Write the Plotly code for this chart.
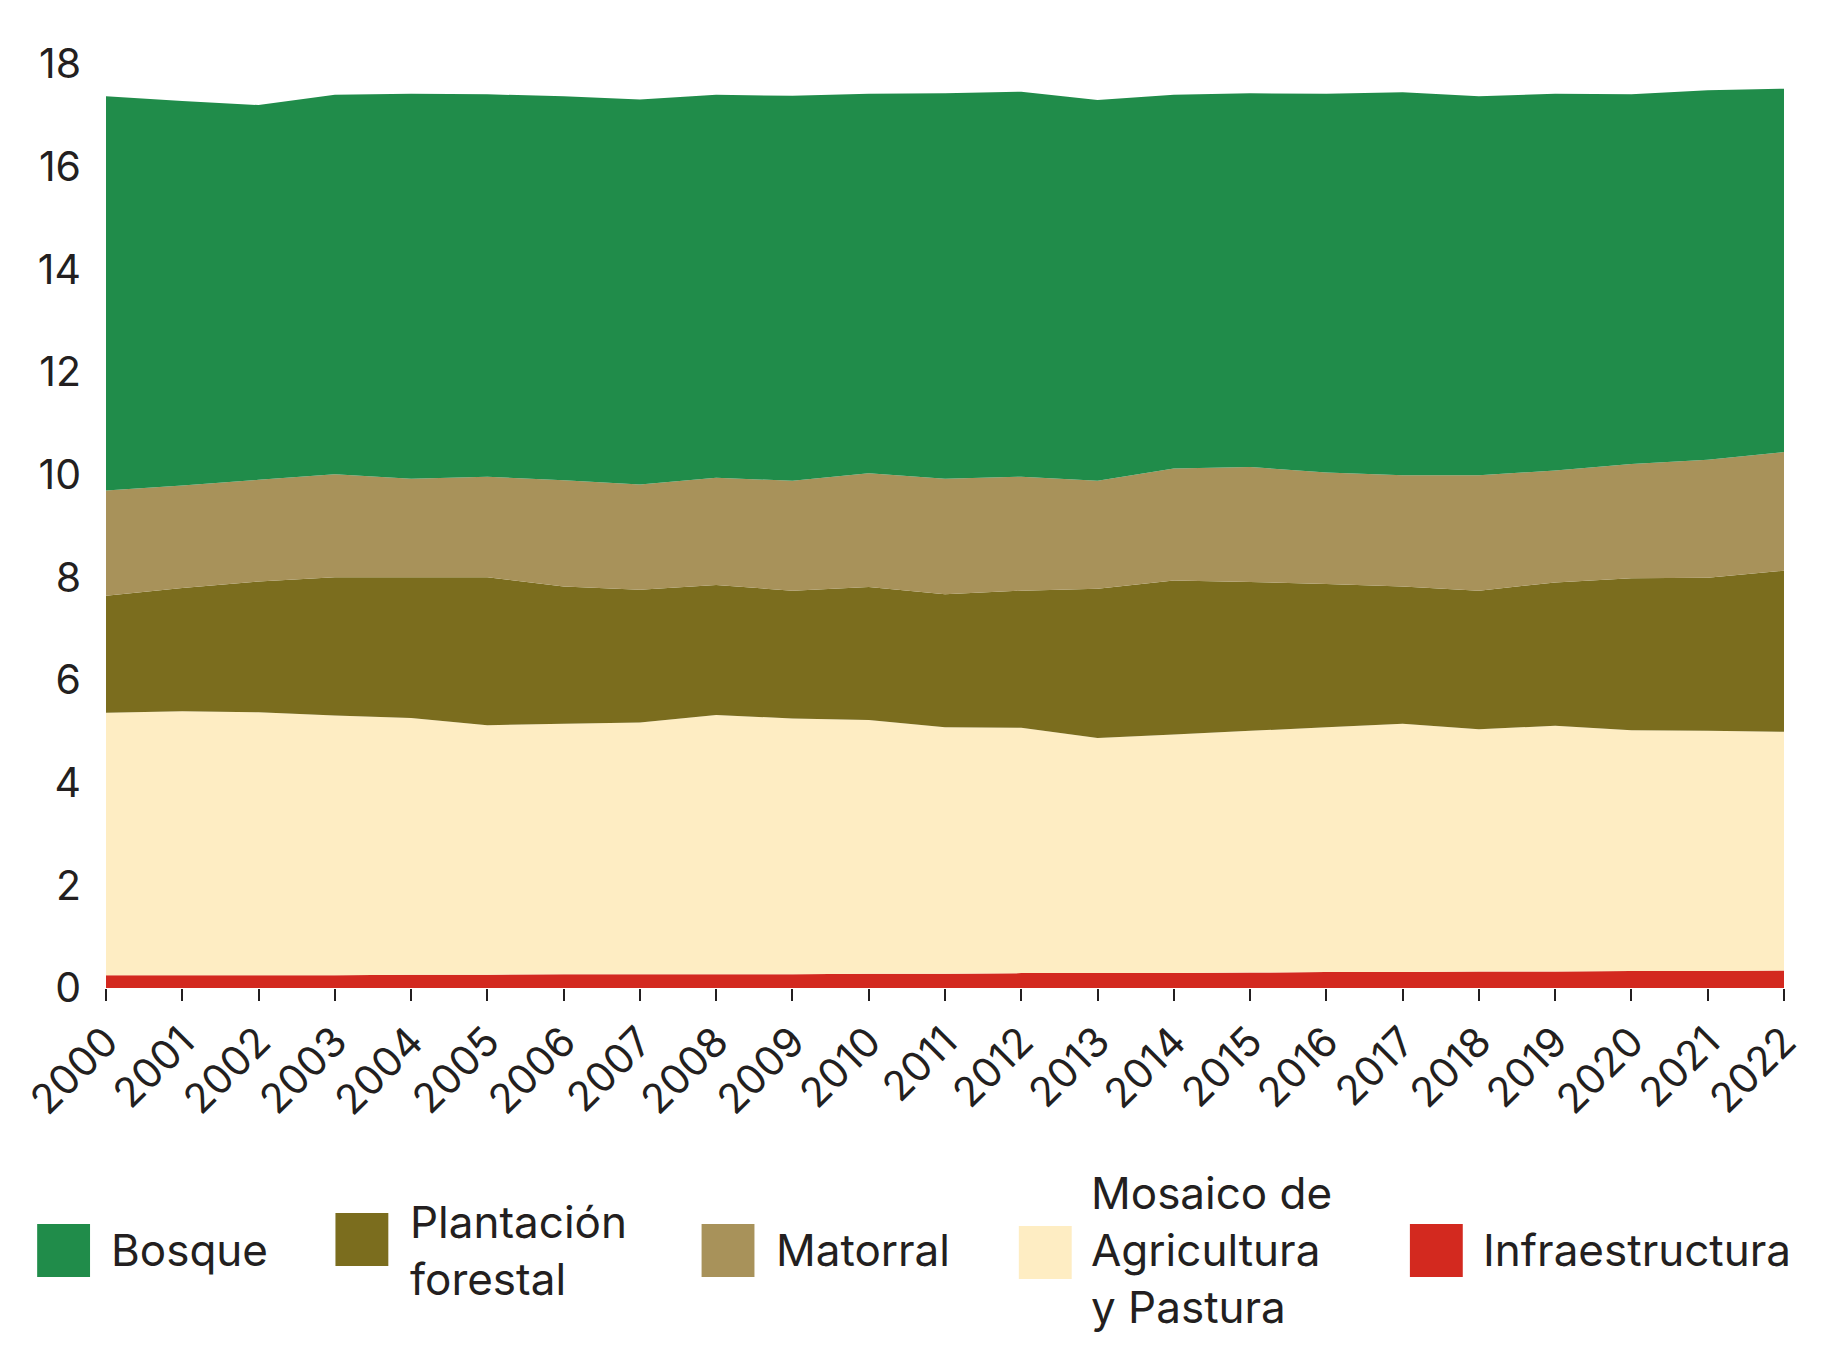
import plotly.graph_objects as go

# Datos (millones de ha aprox.)
years = list(range(2000, 2023))

infraestructura = [0.25, 0.25, 0.25, 0.25, 0.26, 0.26, 0.27, 0.27, 0.27, 0.27, 0.28, 0.28,
                   0.29, 0.29, 0.29, 0.30, 0.31, 0.31, 0.32, 0.32, 0.33, 0.33, 0.34]
mosaico = [5.11, 5.14, 5.12, 5.06, 5.00, 4.86, 4.88, 4.90, 5.05, 4.98, 4.94, 4.80,
           4.78, 4.58, 4.65, 4.71, 4.77, 4.84, 4.72, 4.79, 4.69, 4.68, 4.65]
plantacion = [2.28, 2.40, 2.55, 2.69, 2.74, 2.88, 2.67, 2.59, 2.53, 2.49, 2.59, 2.59,
              2.67, 2.91, 3.00, 2.90, 2.79, 2.67, 2.70, 2.79, 2.96, 2.98, 3.14]
matorral = [2.05, 2.00, 1.98, 2.01, 1.92, 1.96, 2.07, 2.05, 2.09, 2.14, 2.22, 2.25,
            2.22, 2.10, 2.18, 2.24, 2.17, 2.17, 2.25, 2.18, 2.23, 2.30, 2.31]
bosque = [7.68, 7.49, 7.30, 7.39, 7.50, 7.45, 7.48, 7.50, 7.46, 7.50, 7.39, 7.51,
          7.50, 7.42, 7.28, 7.28, 7.38, 7.46, 7.38, 7.34, 7.20, 7.20, 7.08]

y_ticks = list(range(0, 19, 2))

# orden de apilado: de abajo hacia arriba
series = [
    ("Infraestructura", infraestructura, "#D3291F"),
    ("Mosaico de<br>Agricultura<br>y Pastura", mosaico, "#FEEDC3"),
    ("Plantación<br>forestal", plantacion, "#7B6D1E"),
    ("Matorral", matorral, "#A8925A"),
    ("Bosque", bosque, "#208C4A"),
]

TXT = "#231F20"
FONT = "Inter, Lato, sans-serif"

# el body del html tiene 8px de margen
OFF = 8
W, H = 1831 - 2 * OFF, 1358 - 2 * OFF
L, R, T, B = 102 - OFF, 47 - OFF, 64 - OFF, 370 - OFF

fig = go.Figure()
for name, vals, color in series:
    fig.add_trace(go.Scatter(
        x=years, y=vals, name=name.replace("<br>", " "),
        mode="none", stackgroup="one", fillcolor=color,
        showlegend=False,
    ))

# leyenda manual (cuadros grandes)
plot_w = W - L - R
plot_h = H - T - B


def px_x(px):
    return (px - OFF - L) / plot_w


def px_y(py):
    return (H - B - (py - OFF)) / plot_h


legend_items = [
    ("Bosque", "#208C4A", 33, 1224, 105),
    ("Plantación<br>forestal", "#7B6D1E", 332, 1213, 405),
    ("Matorral", "#A8925A", 699, 1224, 772),
    ("Mosaico de<br>Agricultura<br>y Pastura", "#FEEDC3", 1017, 1226, 1087),
    ("Infraestructura", "#D3291F", 1409, 1224, 1480),
]
for label, color, sx, sy, tx in legend_items:
    fig.add_shape(type="rect", xref="paper", yref="paper",
                  x0=px_x(sx), x1=px_x(sx + 53), y0=px_y(sy), y1=px_y(sy + 53),
                  fillcolor=color, line_width=0)
    fig.add_annotation(text=label, xref="paper", yref="paper",
                       x=px_x(tx), y=px_y(1250), xanchor="left", yanchor="middle",
                       align="left", showarrow=False,
                       font=dict(size=44, color=TXT, family=FONT))

fig.update_layout(
    width=W, height=H,
    margin=dict(l=L, r=R, t=T, b=B),
    plot_bgcolor="white", paper_bgcolor="white",
    font=dict(family=FONT, color=TXT, size=40),
)
fig.update_xaxes(
    range=[2000, 2022], tickvals=years, tickangle=-45,
    ticks="outside", ticklen=12, tickwidth=2, tickcolor="#231F20",
    showgrid=False, zeroline=False, showline=False,
    tickfont=dict(size=41, color=TXT),
)
fig.update_yaxes(
    range=[0, 18], tickvals=y_ticks,
    showgrid=False, zeroline=False, showline=False, ticks="",
    ticklabelstandoff=24, tickfont=dict(size=41, color=TXT),
)

fig.write_html("out.html", config={"displayModeBar": False})
